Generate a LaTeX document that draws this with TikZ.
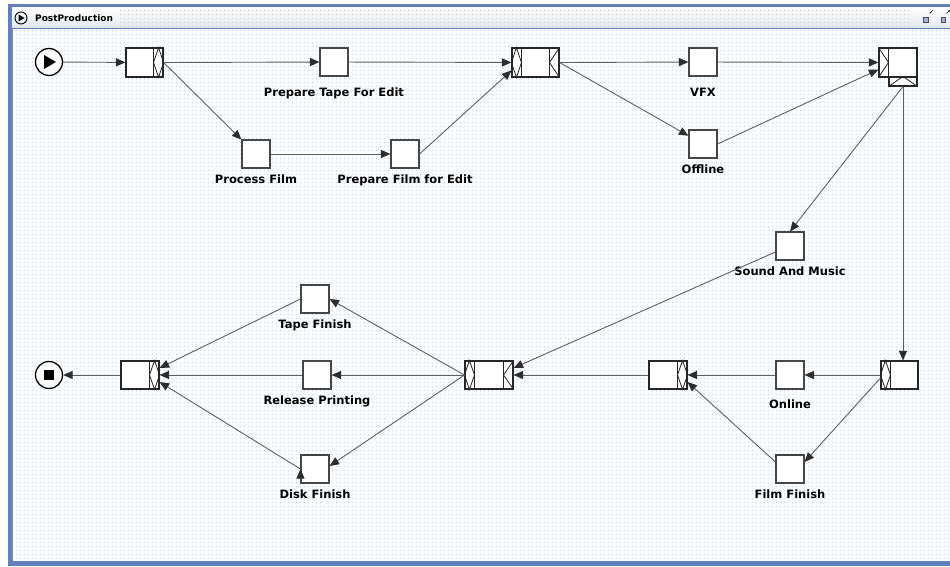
\documentclass[tikz,border=0pt]{standalone}
\usepackage{fontspec}
\setmainfont{DejaVu Sans}
\usetikzlibrary{arrows.meta,patterns}

\definecolor{frameblue}{RGB}{98,128,190}
\definecolor{titlegray}{RGB}{226,230,238}
\definecolor{canvasbg}{RGB}{251,252,254}
\definecolor{dotblue}{RGB}{196,212,234}
\definecolor{edgegray}{RGB}{95,95,95}
\definecolor{tipgray}{RGB}{45,45,45}
\definecolor{boxgray}{RGB}{70,70,70}

% small dots for the editor canvas
\pgfdeclarepatternformonly{canvasdots}{\pgfqpoint{0pt}{0pt}}{\pgfqpoint{4pt}{4pt}}{\pgfqpoint{4pt}{4pt}}{%
  \pgfpathrectangle{\pgfqpoint{0pt}{0pt}}{\pgfqpoint{1pt}{1pt}}\pgfusepath{fill}}

% gateway marks: diamond / wedge in a 10pt side section
\newcommand{\diaeast}[1]{\draw[gatemark] ([xshift=-10pt]#1.north east) -- ([xshift=-10pt]#1.south east)
  ([xshift=-5pt]#1.north east) -- ([xshift=-10pt]#1.east) -- ([xshift=-5pt]#1.south east) -- (#1.east) -- cycle;}
\newcommand{\diawest}[1]{\draw[gatemark] ([xshift=10pt]#1.north west) -- ([xshift=10pt]#1.south west)
  ([xshift=5pt]#1.north west) -- (#1.west) -- ([xshift=5pt]#1.south west) -- ([xshift=10pt]#1.west) -- cycle;}
\newcommand{\wedgeeast}[1]{\draw[gatemark] ([xshift=-10pt]#1.north east) -- ([xshift=-10pt]#1.south east)
  (#1.north east) -- ([xshift=-10pt]#1.east) -- (#1.south east);}
\newcommand{\wedgewest}[1]{\draw[gatemark] ([xshift=10pt]#1.north west) -- ([xshift=10pt]#1.south west)
  (#1.north west) -- ([xshift=10pt]#1.west) -- (#1.south west);}

\tikzset{
  task/.style={draw=boxgray,line width=1.1pt,fill=white,minimum width=28pt,minimum height=28pt,inner sep=0pt},
  gate/.style={draw=black!85,line width=1.1pt,fill=white,minimum height=29pt,inner sep=0pt},
  gatemark/.style={draw=black!85,line width=0.8pt},
  event/.style={circle,draw=black,line width=1.3pt,fill=white,minimum size=27pt,inner sep=0pt},
  lbl/.style={font=\bfseries\fontsize{11.5}{13}\selectfont,inner sep=0pt,label distance=6.5pt},
  flow/.style={->,draw=edgegray,line width=0.9pt},
}

\begin{document}
\begin{tikzpicture}[x=1pt,y=-1pt,>={Triangle[length=9.5pt,width=8pt,color=tipgray]}]

\useasboundingbox (0,0) rectangle (950,567);
\fill[white] (0,0) rectangle (950,567);

% window frame and title bar
\fill[frameblue] (8,4) rectangle (950,566);
\shade[top color=white,bottom color=titlegray] (12,8) rectangle (950,28);
\fill[pattern=canvasdots,pattern color=black!22] (118,10) rectangle (912,27);
\fill[canvasbg] (13,29) rectangle (950,561);
\fill[pattern=canvasdots,pattern color=dotblue] (13,29) rectangle (950,561);
\draw[black!45] (12.5,29) -- (12.5,561);

\node[circle,draw,line width=0.9pt,minimum size=12pt,inner sep=0pt,
  path picture={\fill[black] ([xshift=-2.5pt,yshift=3.5pt]path picture bounding box.center) -- ++(6pt,-3.5pt) -- ++(-6pt,-3.5pt) -- cycle;}]
  (ticon) at (21,18) {};
\node[font=\bfseries\fontsize{9}{11}\selectfont,anchor=west,inner sep=0pt] (title) at (35,18.5) {PostProduction};
\node[draw=black!70,fill=frameblue!60,minimum size=4.5pt,inner sep=0pt] (bmin) at (925.5,19.5) {};
\node[draw=black!70,fill=frameblue!60,minimum size=4.5pt,inner sep=0pt] (bmax) at (943,19.5) {};
\draw[->,>={Stealth[length=2pt]},line width=0.5pt] (933,10) -- (929.5,13.5);
\draw[->,>={Stealth[length=2pt]},line width=0.5pt] (946.5,13.5) -- (950,10);

% events
\node[event,path picture={\fill[black] ([xshift=-5pt,yshift=7pt]path picture bounding box.center) -- ++(12pt,-7pt) -- ++(-12pt,-7pt) -- cycle;}]
  (start) at (49,62) {};
\node[event,path picture={\fill[black] ([xshift=-5pt,yshift=-5pt]path picture bounding box.center) rectangle ++(10pt,10pt);}]
  (end) at (49,375) {};

% gateways
\node[gate,minimum width=37pt] (g1)   at (144.5,62.5) {};
\node[gate,minimum width=47pt] (j1)   at (535.5,62.5) {};
\node[gate,minimum width=38pt] (j2)   at (898,62.5) {};
\node[gate,minimum width=28pt,minimum height=9pt] (j2b) at (903,81.5) {};
\node[gate,minimum width=37pt,minimum height=28pt] (rg) at (899.5,375) {};
\node[gate,minimum width=38pt,minimum height=28pt] (mg) at (668,375) {};
\node[gate,minimum width=48pt,minimum height=28pt] (mid) at (489,375) {};
\node[gate,minimum width=38pt,minimum height=28pt] (endg) at (140,375) {};

\diaeast{g1}
\diawest{j1}  \wedgeeast{j1}
\wedgewest{j2}
\draw[gatemark] (j2b.south west) -- (j2b.north) -- (j2b.south east);
\diawest{rg}
\diaeast{mg}
\diawest{mid} \wedgeeast{mid}
\diaeast{endg}

% tasks
\node[task,label={[lbl,label distance=11pt]below:Prepare Tape For Edit}] (tape)     at (334,62)  {};
\node[task,label={[lbl]below:Process Film}]                               (pfilm)    at (256,154) {};
\node[task,label={[lbl]below:Prepare Film for Edit}]                      (prepfilm) at (405,154) {};
\node[task,label={[lbl,label distance=11pt]below:VFX}]                    (vfx)      at (703,62)  {};
\node[task,label={[lbl]below:Offline}]                                    (offline)  at (703,144) {};
\node[task,label={[lbl]below:Sound And Music}]                            (sound)    at (790,246) {};
\node[task,label={[lbl,label distance=10pt]below:Online}]                 (online)   at (790,375) {};
\node[task,label={[lbl]below:Film Finish}]                                (filmfin)  at (790,469) {};
\node[task,label={[lbl]below:Tape Finish}]                                (tapefin)  at (315,299) {};
\node[task,label={[lbl]below:Release Printing}]                           (release)  at (317,375) {};
\node[task,label={[lbl]below:Disk Finish}]                                (diskfin)  at (315,469) {};

% sequence flows
\path[flow]
  (start)       edge (g1)
  (g1.east)     edge (tape)
  (g1.east)     edge (pfilm)
  (tape)        edge (j1)
  (pfilm)       edge (prepfilm)
  (prepfilm.east) edge ([yshift=-8pt]j1.west)
  (j1.east)     edge (vfx)
  (j1.east)     edge (offline)
  (vfx)         edge (j2)
  (offline.east) edge ([yshift=-7pt]j2.west)
  (j2b.south)   edge (sound.north)
  (j2b.south)   edge (j2b.south |- rg.north)
  ([yshift=-6pt]sound.west) edge ([yshift=7pt]mid.east)
  (rg.west)     edge (online)
  ([yshift=-3pt]rg.west) edge ([yshift=7pt]filmfin.east)
  (online)      edge (mg)
  ([yshift=7pt]filmfin.west) edge ([yshift=-7pt]mg.east)
  (mg)          edge (mid)
  (mid.west)    edge (tapefin.east)
  (mid.west)    edge (release)
  (mid.west)    edge ([yshift=3pt]diskfin.east)
  (tapefin.west) edge ([yshift=7pt]endg.east)
  (release)     edge (endg)
  (diskfin.west) edge ([yshift=-7pt]endg.east)
  (endg)        edge (end);
\end{tikzpicture}
\end{document}
